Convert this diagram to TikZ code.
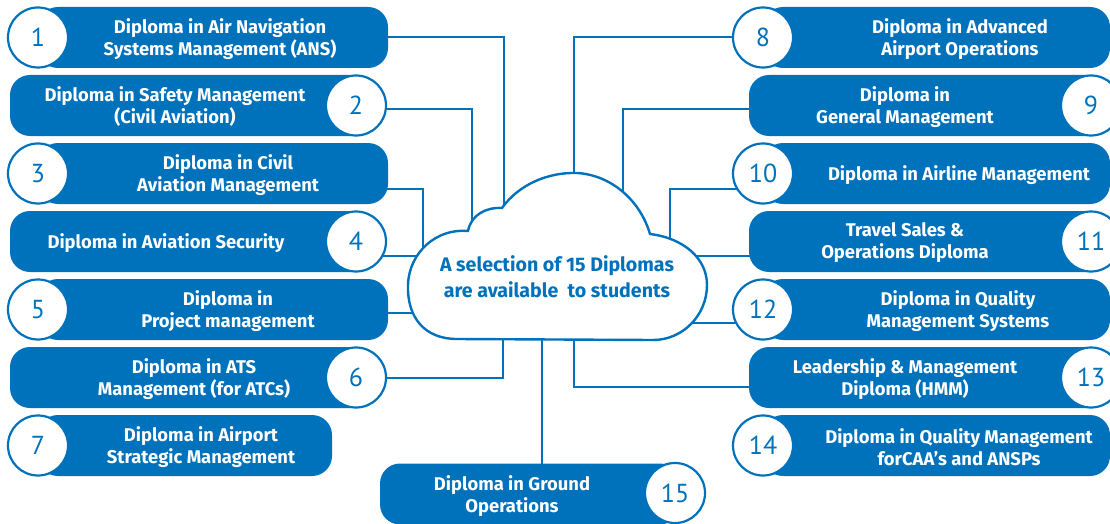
\documentclass[tikz,border=0pt]{standalone}
\usepackage{fontspec}
\setmainfont{Fira Sans}
\newfontfamily\numfont{PT Sans}
\pgfdeclarelayer{bg}
\pgfsetlayers{bg,main}
\definecolor{dblue}{HTML}{0071BB}
\tikzset{
  box/.style={fill=dblue, draw=none, rounded corners=20pt, minimum height=61pt, inner sep=0pt},
  num/.style={circle, fill=white, draw=dblue, line width=2.2pt, minimum size=60pt, inner sep=0pt, text=dblue, font=\numfont\fontsize{26}{26}\selectfont},
  lbl/.style={text=white, font=\bfseries\fontsize{18.4}{22}\selectfont, align=center, inner sep=0pt},
  conn/.style={draw=dblue, line width=2pt},
  cloudline/.style={draw=dblue, line width=2.4pt, fill=white},
  cloudtxt/.style={text=dblue, font=\bfseries\fontsize{19.6}{26}\selectfont, align=center, inner sep=0pt},
}
\begin{document}
\begin{tikzpicture}[x=1pt,y=-1pt]
\useasboundingbox (0,0) rectangle (1110,524);
% left column
\node[box, minimum width=350pt] (b1) at (213,37.5) {};
\node[num] (c1) at (38,37.5) {1};
\node[lbl] (t1) at (220,39) {Diploma in Air Navigation\\Systems Management (ANS)};

\node[box, minimum width=360pt] (b2) at (190,105.5) {};
\node[num] (c2) at (356,105.5) {2};
\node[lbl] (t2) at (175,107) {Diploma in Safety Management\\(Civil Aviation)};

\node[box, minimum width=350pt] (b3) at (213,173.5) {};
\node[num] (c3) at (38,173.5) {3};
\node[lbl] (t3) at (228,175) {Diploma in Civil\\Aviation Management};

\node[box, minimum width=360pt] (b4) at (190,241.5) {};
\node[num] (c4) at (356,241.5) {4};
\node[lbl] (t4) at (166,243) {Diploma in Aviation Security};

\node[box, minimum width=350pt] (b5) at (213,309.5) {};
\node[num] (c5) at (38,309.5) {5};
\node[lbl] (t5) at (228,311) {Diploma in\\Project management};

\node[box, minimum width=360pt] (b6) at (190,377.5) {};
\node[num] (c6) at (356,377.5) {6};
\node[lbl] (t6) at (194,379) {Diploma in ATS\\Management (for ATCs)};

\node[box, minimum width=294pt] (b7) at (185,445.5) {};
\node[num] (c7) at (38,445.5) {7};
\node[lbl] (t7) at (201,447) {Diploma in Airport\\Strategic Management};

% right column
\node[box, minimum width=347pt] (b8) at (936.5,37.5) {};
\node[num] (c8) at (763,37.5) {8};
\node[lbl] (t8) at (960,39) {Diploma in Advanced\\Airport Operations};

\node[box, minimum width=356pt] (b9) at (927,105.5) {};
\node[num] (c9) at (1091,105.5) {9};
\node[lbl] (t9) at (905,107) {Diploma in\\General Management};

\node[box, minimum width=347pt] (b10) at (936.5,173.5) {};
\node[num] (c10) at (763,173.5) {10};
\node[lbl] (t10) at (959,175) {Diploma in Airline Management};

\node[box, minimum width=356pt] (b11) at (927,241.5) {};
\node[num] (c11) at (1091,241.5) {11};
\node[lbl] (t11) at (905,243) {Travel Sales \&\\Operations Diploma};

\node[box, minimum width=347pt] (b12) at (936.5,309.5) {};
\node[num] (c12) at (763,309.5) {12};
\node[lbl] (t12) at (958,311) {Diploma in Quality\\Management Systems};

\node[box, minimum width=356pt] (b13) at (927,377.5) {};
\node[num] (c13) at (1091,377.5) {13};
\node[lbl] (t13) at (905,379) {Leadership \& Management\\Diploma (HMM)};

\node[box, minimum width=347pt] (b14) at (936.5,445.5) {};
\node[num] (c14) at (763,445.5) {14};
\node[lbl] (t14) at (959,447) {Diploma in Quality Management\\forCAA’s and ANSPs};

% bottom
\node[box, minimum width=300pt] (b15) at (530,494) {};
\node[num] (c15) at (675,493) {15};
\node[lbl] (t15) at (512,496) {Diploma in Ground\\Operations};

% coordinates inside the cloud
\coordinate (k1) at (504,215);
\coordinate (k2) at (472,240);
\coordinate (k3) at (423,265);
\coordinate (k4) at (430,262);
\coordinate (k5) at (430,320);
\coordinate (k6) at (503,330);
\coordinate (k8) at (574,190);
\coordinate (k9) at (623,210);
\coordinate (k10) at (670,250);
\coordinate (k11) at (690,262);
\coordinate (k12) at (690,318);
\coordinate (k13) at (574,330);
\coordinate (k15) at (542,330);

\begin{pgfonlayer}{bg}
\draw[conn] (b1.center) -| (k1);
\draw[conn] ([yshift=-4pt]c2.center) -| (k2);
\draw[conn] ([yshift=-15pt]b3.center) -| (k3);
\draw[conn] ([yshift=-14pt]c4.center) -| (k4);
\draw[conn] ([yshift=-3pt]b5.center) -| (k5);
\draw[conn] (c6.center) -| (k6);
\draw[conn] (c8.center) -| (k8);
\draw[conn] ([yshift=-4pt]b9.center) -| (k9);
\draw[conn] ([yshift=-15pt]c10.center) -| (k10);
\draw[conn] ([yshift=-14pt]b11.center) -| (k11);
\draw[conn] ([yshift=-13pt]c12.center) -| (k12);
\draw[conn] ([yshift=-9pt]b13.center) -| (k13);
\draw[conn] (b15.center) -| (k15);
\end{pgfonlayer}

% cloud
\draw[cloudline] (457,339) .. controls (425,339) and (407,318) .. (408,285)
  .. controls (409,252) and (437,228) .. (468,231)
  .. controls (471,215) and (486,207) .. (502,208)
  .. controls (519,184) and (549,172) .. (577,173)
  .. controls (611,175) and (640,200) .. (650,234)
  .. controls (683,238) and (707,258) .. (707,285)
  .. controls (707,315) and (683,340) .. (653,340)
  -- cycle;
\node[cloudtxt] (ct) at (557,277) {A selection of 15 Diplomas\\are available\ \ to students};
\end{tikzpicture}
\end{document}
